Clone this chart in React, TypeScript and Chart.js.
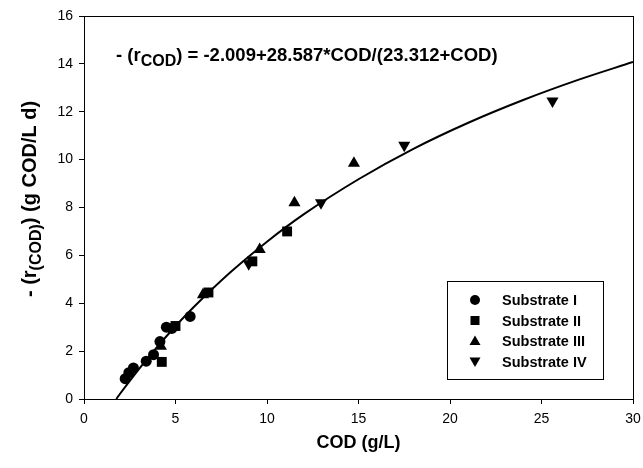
import React, { useEffect, useRef } from 'react';
import { Chart, registerables } from 'chart.js';
Chart.register(...registerables);

// Fitted curve
const fitCOD = [1.76, 2, 3, 4, 5, 6, 8, 10, 12, 15, 18, 21, 24, 27, 30];
const fitRate = [0, 0.25, 1.25, 2.18, 3.04, 3.84, 5.29, 6.57, 7.71, 9.18, 10.45, 11.54, 12.49, 13.33, 14.08];

// Substrate I (circles)
const s1COD = [2.25, 2.45, 2.7, 3.4, 3.8, 4.15, 4.5, 4.8, 5.8];
const s1Rate = [0.85, 1.1, 1.3, 1.58, 1.85, 2.4, 3.0, 2.95, 3.45];
// Substrate II (squares)
const s2COD = [4.25, 5.0, 6.8, 9.2, 11.1];
const s2Rate = [1.55, 3.05, 4.45, 5.75, 7.0];
// Substrate III (up triangles)
const s3COD = [4.2, 6.5, 9.6, 11.5, 14.75];
const s3Rate = [2.2, 4.35, 6.25, 8.2, 9.85];
// Substrate IV (down triangles)
const s4COD = [9.0, 12.95, 17.5, 25.6];
const s4Rate = [5.65, 8.2, 10.6, 12.45];

const xTicks = [0, 5, 10, 15, 20, 25, 30];
const yTicks = [0, 2, 4, 6, 8, 10, 12, 14, 16];
const legendLabels = ['Substrate I', 'Substrate II', 'Substrate III', 'Substrate IV'];

const FONT = '"Liberation Sans", Arial, sans-serif';

const pts = (xs: number[], ys: number[]) => xs.map((x, i) => ({ x, y: ys[i] }));

function drawMarker(ctx: CanvasRenderingContext2D, kind: number, x: number, y: number) {
  ctx.beginPath();
  if (kind === 0) {
    ctx.arc(x, y, 5, 0, Math.PI * 2);
  } else if (kind === 1) {
    ctx.rect(x - 4.5, y - 4.5, 9, 9);
  } else if (kind === 2) {
    ctx.moveTo(x, y - 5.5);
    ctx.lineTo(x + 5.5, y + 4);
    ctx.lineTo(x - 5.5, y + 4);
    ctx.closePath();
  } else {
    ctx.moveTo(x, y + 5.5);
    ctx.lineTo(x + 5.5, y - 4);
    ctx.lineTo(x - 5.5, y - 4);
    ctx.closePath();
  }
  ctx.fill();
}

const decorPlugin = {
  id: 'decor',
  afterDraw(chart: any) {
    const ctx: CanvasRenderingContext2D = chart.ctx;
    const a = chart.chartArea;
    ctx.save();
    // frame
    ctx.strokeStyle = '#000';
    ctx.lineWidth = 1;
    ctx.strokeRect(Math.round(a.left) + 0.5, Math.round(a.top) + 0.5, Math.round(a.right - a.left), Math.round(a.bottom - a.top));

    ctx.fillStyle = '#000';
    // equation
    let x = 116;
    const by = 61;
    ctx.textBaseline = 'alphabetic';
    ctx.textAlign = 'left';
    ctx.font = `bold 18.5px ${FONT}`;
    const p1 = '- (r';
    ctx.fillText(p1, x, by);
    x += ctx.measureText(p1).width;
    ctx.font = `bold 16px ${FONT}`;
    const s1 = 'COD';
    ctx.fillText(s1, x, by + 5);
    x += ctx.measureText(s1).width;
    ctx.font = `bold 18.5px ${FONT}`;
    ctx.fillText(') = -2.009+28.587*COD/(23.312+COD)', x, by);

    // y-axis title
    ctx.save();
    ctx.translate(36, 199);
    ctx.rotate(-Math.PI / 2);
    const partA = '- (r';
    const partB = '(COD)';
    const partC = ') (g COD/L d)';
    ctx.font = `bold 20px ${FONT}`;
    const wA = ctx.measureText(partA).width;
    const wC = ctx.measureText(partC).width;
    ctx.font = `bold 16px ${FONT}`;
    const wB = ctx.measureText(partB).width;
    let tx = -(wA + wB + wC) / 2;
    ctx.font = `bold 20px ${FONT}`;
    ctx.fillText(partA, tx, 0);
    tx += wA;
    ctx.font = `bold 16px ${FONT}`;
    ctx.fillText(partB, tx, 5);
    tx += wB;
    ctx.font = `bold 20px ${FONT}`;
    ctx.fillText(partC, tx, 0);
    ctx.restore();

    // legend
    ctx.strokeRect(447.5, 281.5, 156, 98);
    ctx.font = `bold 14.5px ${FONT}`;
    ctx.textBaseline = 'middle';
    legendLabels.forEach((lab, i) => {
      const ly = 300 + i * 20.5;
      drawMarker(ctx, i, 475, ly);
      ctx.fillText(lab, 502, ly + 1);
    });
    ctx.restore();
  },
};

export default function App() {
  const ref = useRef<HTMLCanvasElement>(null);
  useEffect(() => {
    document.body.style.margin = '0';
    const canvas = ref.current!;
    const chart = new Chart(canvas, {
      type: 'scatter',
      data: {
        datasets: [
          {
            label: 'fit',
            data: pts(fitCOD, fitRate),
            showLine: true,
            borderColor: '#000',
            borderWidth: 2,
            pointRadius: 0,
            cubicInterpolationMode: 'monotone',
            order: 5,
          } as any,
          {
            label: legendLabels[0],
            data: pts(s1COD, s1Rate),
            pointStyle: 'circle',
            pointRadius: 5.5,
            backgroundColor: '#000',
            borderColor: '#000',
            borderWidth: 0,
          },
          {
            label: legendLabels[1],
            data: pts(s2COD, s2Rate),
            pointStyle: 'rect',
            pointRadius: 7,
            backgroundColor: '#000',
            borderColor: '#000',
            borderWidth: 0,
          },
          {
            label: legendLabels[2],
            data: pts(s3COD, s3Rate),
            pointStyle: 'triangle',
            pointRadius: 7,
            backgroundColor: '#000',
            borderColor: '#000',
            borderWidth: 0,
          },
          {
            label: legendLabels[3],
            data: pts(s4COD, s4Rate),
            pointStyle: 'triangle',
            rotation: 180,
            pointRadius: 7,
            backgroundColor: '#000',
            borderColor: '#000',
            borderWidth: 0,
          } as any,
        ],
      },
      options: {
        responsive: false,
        animation: false,
        devicePixelRatio: 1,
        layout: { padding: { top: 16, right: 10, left: 0, bottom: 12 } },
        plugins: { legend: { display: false }, tooltip: { enabled: false }, title: { display: false } },
        scales: {
          x: {
            type: 'linear',
            min: 0,
            max: 30,
            afterBuildTicks: (s: any) => { s.ticks = xTicks.map((v) => ({ value: v })); },
            afterFit: (s: any) => { s.height = 57; s.paddingRight = 0; s.paddingLeft = 0; },
            ticks: { color: '#000', font: { family: FONT, size: 14 }, padding: 7 },
            grid: { display: true, drawOnChartArea: false, drawTicks: true, tickLength: 5, color: '#000' },
            border: { display: true, color: '#000', width: 1 },
            title: { display: true, text: 'COD (g/L)', color: '#000', font: { family: FONT, size: 18, weight: 'bold' }, padding: { top: 4, bottom: 2 } },
          },
          y: {
            type: 'linear',
            min: 0,
            max: 16,
            afterBuildTicks: (s: any) => { s.ticks = yTicks.map((v) => ({ value: v })); },
            afterFit: (s: any) => { s.width = 84; s.paddingTop = 0; s.paddingBottom = 0; },
            ticks: { color: '#000', font: { family: FONT, size: 14 }, padding: 6 },
            grid: { display: true, drawOnChartArea: false, drawTicks: true, tickLength: 5, color: '#000' },
            border: { display: true, color: '#000', width: 1 },
          },
        },
      } as any,
      plugins: [decorPlugin],
    });
    return () => chart.destroy();
  }, []);
  return (
    <div style={{ width: 643, height: 468 }}>
      <canvas ref={ref} width={643} height={468} style={{ display: 'block' }} />
    </div>
  );
}
